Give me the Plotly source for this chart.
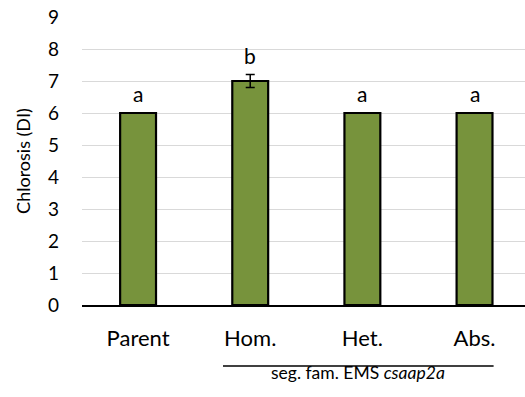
import plotly.graph_objects as go

# Chlorosis disease index per genotype
categories = ["Parent", "Hom.", "Het.", "Abs."]
values = [6.0, 7.0, 6.0, 6.0]
errors = [0.0, 0.2, 0.0, 0.0]
letters = ["a", "b", "a", "a"]
y_ticks = list(range(0, 10))

FONT = "Lato, 'Open Sans', sans-serif"

fig = go.Figure()
fig.add_trace(go.Bar(
    x=categories,
    y=values,
    marker=dict(color="#77933C", line=dict(color="black", width=2.2)),
    width=0.32,
    error_y=dict(type="data", array=errors, visible=True,
                 color="black", thickness=1.5, width=4.5),
    showlegend=False,
))

# Significance letters above each bar (and its error bar)
for c, v, e, t in zip(categories, values, errors, letters):
    fig.add_annotation(x=c, y=v + e, text=t, showarrow=False,
                       yanchor="bottom", yshift=5,
                       font=dict(family=FONT, size=21, color="black"))

# Bracket line spanning the segregating family genotypes
fig.add_shape(type="line", xref="x", yref="paper",
              x0=0.757, x1=3.17, y0=-0.212, y1=-0.212,
              line=dict(color="black", width=1.5))
fig.add_annotation(xref="x", yref="paper", x=1.96, y=-0.278,
                   text="seg. fam. EMS <i>csaap2a</i>", showarrow=False,
                   font=dict(family=FONT, size=17.5, color="black"))

fig.update_layout(
    width=525, height=397,
    margin=dict(l=82, r=0, t=17, b=92),
    paper_bgcolor="white", plot_bgcolor="white",
    font=dict(family=FONT, color="black"),
    bargap=0.68,
)
fig.update_xaxes(
    range=[-0.5, 3.45],
    showline=True, linecolor="black", linewidth=1.5,
    ticks="", ticklabelstandoff=13,
    tickfont=dict(family=FONT, size=22, color="black"),
    showgrid=False, zeroline=False,
)
fig.update_yaxes(
    range=[0, 9], tickvals=y_ticks,
    showgrid=True, gridcolor="#d9d9d9", gridwidth=1.3,
    zeroline=False, showline=False,
    tickfont=dict(family=FONT, size=19, color="black"),
    ticklabelstandoff=22,
    title=dict(text="Chlorosis (DI)", font=dict(family=FONT, size=18, color="black"),
               standoff=12),
)

fig.write_html("out.html")
